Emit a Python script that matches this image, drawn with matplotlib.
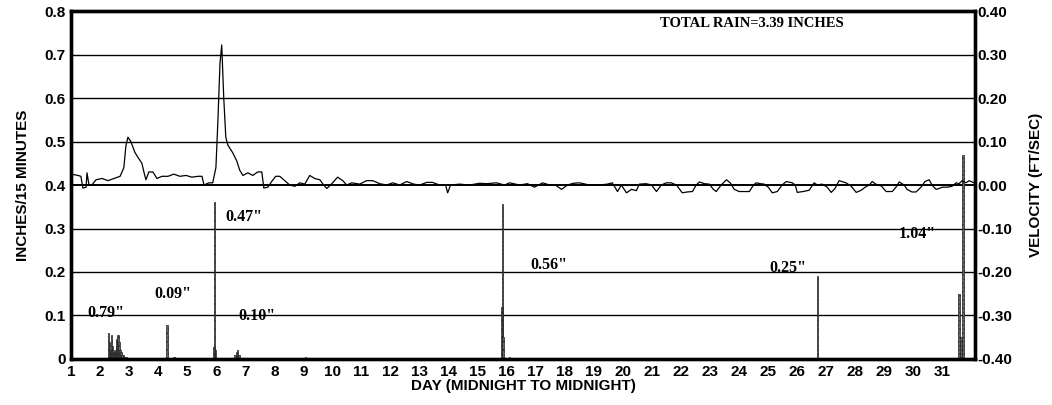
#%% imports

import matplotlib
matplotlib.use('Agg')
import matplotlib.pyplot as plt

#%% data

# velocity (ft/sec)
vel_day = [1.00, 1.24, 1.34, 1.41, 1.52, 1.55, 1.62, 1.72, 1.86, 2.07, 2.27, 2.48, 2.69, 2.82, 2.89, 2.96,
           3.06, 3.20, 3.34, 3.44, 3.51, 3.58, 3.68, 3.82, 3.96, 4.13, 4.34, 4.54, 4.75, 4.96, 5.16, 5.37,
           5.51, 5.58, 5.75, 5.88, 5.99, 6.06, 6.13, 6.19, 6.26, 6.33, 6.40, 6.57, 6.71, 6.81, 6.92, 7.09,
           7.26, 7.43, 7.57, 7.64, 7.78, 7.91, 8.05, 8.19, 8.36, 8.53, 8.71, 8.88, 9.05, 9.22, 9.39, 9.57,
           9.70, 9.81, 10.01, 10.18, 10.36, 10.49, 10.67, 10.94, 11.18, 11.39, 11.63, 11.87, 12.08, 12.32,
           12.56, 12.80, 13.01, 13.25, 13.45, 13.69, 13.90, 13.97, 14.07, 14.38, 14.73, 15.07, 15.31, 15.65,
           15.93, 16.10, 16.45, 16.72, 16.96, 17.24, 17.48, 17.68, 17.89, 18.10, 18.30, 18.51, 18.85, 19.20,
           19.47, 19.64, 19.82, 19.95, 20.13, 20.30, 20.47, 20.57, 20.81, 20.99, 21.16, 21.33, 21.50, 21.67,
           21.85, 22.05, 22.22, 22.40, 22.53, 22.64, 22.81, 22.98, 23.12, 23.22, 23.39, 23.57, 23.70, 23.84,
           24.01, 24.25, 24.36, 24.50, 24.60, 24.74, 24.87, 25.01, 25.15, 25.32, 25.49, 25.63, 25.84, 25.94,
           26.01, 26.21, 26.42, 26.59, 26.70, 26.87, 27.04, 27.18, 27.31, 27.45, 27.69, 27.87, 28.04, 28.21,
           28.35, 28.49, 28.59, 28.76, 28.90, 29.07, 29.28, 29.41, 29.52, 29.69, 29.79, 29.96, 30.10, 30.27,
           30.41, 30.55, 30.65, 30.79, 30.89, 31.00, 31.17, 31.34, 31.48, 31.58, 31.69, 31.82, 31.93, 32.10]
vel_val = [0.025, 0.022, 0.020, -0.007, -0.005, 0.028, 0.000, 0.000, 0.012, 0.015, 0.010, 0.015, 0.020, 0.040, 0.090, 0.110,
           0.100, 0.075, 0.060, 0.050, 0.030, 0.012, 0.030, 0.030, 0.015, 0.020, 0.020, 0.025, 0.020, 0.022, 0.018, 0.020,
           0.020, 0.000, 0.005, 0.005, 0.040, 0.150, 0.280, 0.322, 0.200, 0.110, 0.092, 0.074, 0.055, 0.034, 0.022, 0.028,
           0.022, 0.030, 0.030, -0.007, -0.005, 0.008, 0.020, 0.020, 0.010, 0.000, -0.003, 0.005, 0.002, 0.022, 0.015, 0.012,
           0.000, -0.008, 0.005, 0.018, 0.010, 0.000, 0.005, 0.002, 0.010, 0.010, 0.003, 0.000, 0.005, 0.000,
           0.008, 0.002, 0.000, 0.006, 0.006, 0.000, 0.000, -0.018, 0.000, 0.002, 0.000, 0.004, 0.003, 0.005,
           0.000, 0.005, 0.000, 0.003, -0.005, 0.005, 0.000, 0.000, -0.010, 0.000, 0.004, 0.005, 0.000, 0.000,
           0.002, 0.005, -0.015, 0.000, -0.018, -0.010, -0.013, 0.002, 0.003, 0.000, -0.015, 0.000, 0.005, 0.005,
           0.000, -0.018, -0.016, -0.015, 0.000, 0.007, 0.003, 0.002, -0.010, -0.015, 0.000, 0.012, 0.005, -0.010,
           -0.015, -0.015, -0.015, 0.000, 0.005, 0.003, 0.002, -0.005, -0.018, -0.015, 0.000, 0.008, 0.005, 0.000,
           -0.017, -0.015, -0.012, 0.005, 0.000, 0.002, -0.005, -0.017, -0.008, 0.010, 0.005, -0.003, -0.017, -0.012,
           -0.005, 0.000, 0.008, 0.000, -0.002, -0.015, -0.015, -0.005, 0.007, 0.000, -0.010, -0.016, -0.016, -0.005,
           0.008, 0.012, 0.000, -0.010, -0.008, -0.005, -0.005, -0.003, 0.005, 0.003, 0.010, 0.005, 0.010, 0.005]

# rainfall (inches per 15 minutes)
rain_day = [2.30, 2.33, 2.36, 2.40, 2.43, 2.46, 2.50, 2.53, 2.56, 2.59, 2.62, 2.65, 2.68, 2.72, 2.76, 2.80, 2.85, 2.90,
            4.30, 4.54, 5.93, 5.95, 5.97, 6.64, 6.70, 6.74, 6.78, 9.08,
            15.84, 15.86, 15.88, 16.10, 26.70, 31.58, 31.65, 31.72]
rain_val = [0.060, 0.040, 0.020, 0.055, 0.030, 0.015, 0.020, 0.015, 0.045, 0.030, 0.055, 0.040, 0.020, 0.015, 0.010, 0.010, 0.005, 0.005,
            0.078, 0.005, 0.027, 0.360, 0.020, 0.010, 0.015, 0.020, 0.010, 0.005,
            0.120, 0.356, 0.050, 0.005, 0.190, 0.150, 0.050, 0.470]

# storm totals
storm_lbl = ['0.79"', '0.09"', '0.47"', '0.10"', '0.56"', '0.25"', '1.04"']
storm_x = [2.20, 4.51, 6.95, 7.40, 17.44, 25.67, 30.14]
storm_y = [0.106, 0.149, 0.326, 0.099, 0.216, 0.209, 0.287]

days = list(range(1, 32))
left_ticks = [0, 0.1, 0.2, 0.3, 0.4, 0.5, 0.6, 0.7, 0.8]
left_lbls = ['0', '0.1', '0.2', '0.3', '0.4', '0.5', '0.6', '0.7', '0.8']
right_ticks = [-0.4, -0.3, -0.2, -0.1, 0.0, 0.1, 0.2, 0.3, 0.4]
right_lbls = ['-0.40', '-0.30', '-0.20', '-0.10', '0.00', '0.10', '0.20', '0.30', '0.40']

#%% plot

plt.rcParams['font.family'] = ['Liberation Sans', 'DejaVu Sans']
fig = plt.figure(figsize=(10.52, 4.05), dpi=100)
ax = fig.add_axes([0.0675, 0.1136, 0.8593, 0.8592])

for y in left_ticks[1:-1]:
    ax.axhline(y, color='black', lw=1.4 if y == 0.4 else 1.0, zorder=1)

ax.bar(rain_day, rain_val, width=0.05, color='#6a6a6a', edgecolor='#222222',
       linewidth=0.5, hatch='....', zorder=2)

ax.set_xlim(1, 32.13)
ax.set_ylim(0, 0.8)
ax.set_xticks(days)
ax.set_xticklabels([str(d) for d in days], fontsize=11, fontweight='bold')
ax.set_yticks(left_ticks)
ax.set_yticklabels(left_lbls, fontsize=11, fontweight='bold')
ax.tick_params(axis='both', length=0, pad=4)
ax.set_ylabel('INCHES/15 MINUTES', fontsize=11, fontweight='bold', labelpad=10)
ax.set_xlabel('DAY (MIDNIGHT TO MIDNIGHT)', fontsize=11, fontweight='bold', labelpad=0)

for lbl, x, y in zip(storm_lbl, storm_x, storm_y):
    ax.text(x, y, lbl, family='Liberation Serif', fontweight='bold', fontsize=11.5,
            ha='center', va='center', zorder=4)
ax.text(24.43, 0.772, 'TOTAL RAIN=3.39 INCHES', family='Liberation Serif', fontweight='bold',
        fontsize=10.5, ha='center', va='center', zorder=4)

ax2 = ax.twinx()
ax2.plot(vel_day, vel_val, color='black', lw=0.9, zorder=3)
ax2.set_ylim(-0.4, 0.4)
ax2.set_yticks(right_ticks)
ax2.set_yticklabels(right_lbls, fontsize=11, fontweight='bold')
ax2.tick_params(axis='y', length=0, pad=2)
ax2.set_ylabel('VELOCITY (FT/SEC)', fontsize=11, fontweight='bold', labelpad=12)

for a in (ax, ax2):
    for s in a.spines.values():
        s.set_linewidth(2.4)

fig.savefig('out.png', dpi=100)
